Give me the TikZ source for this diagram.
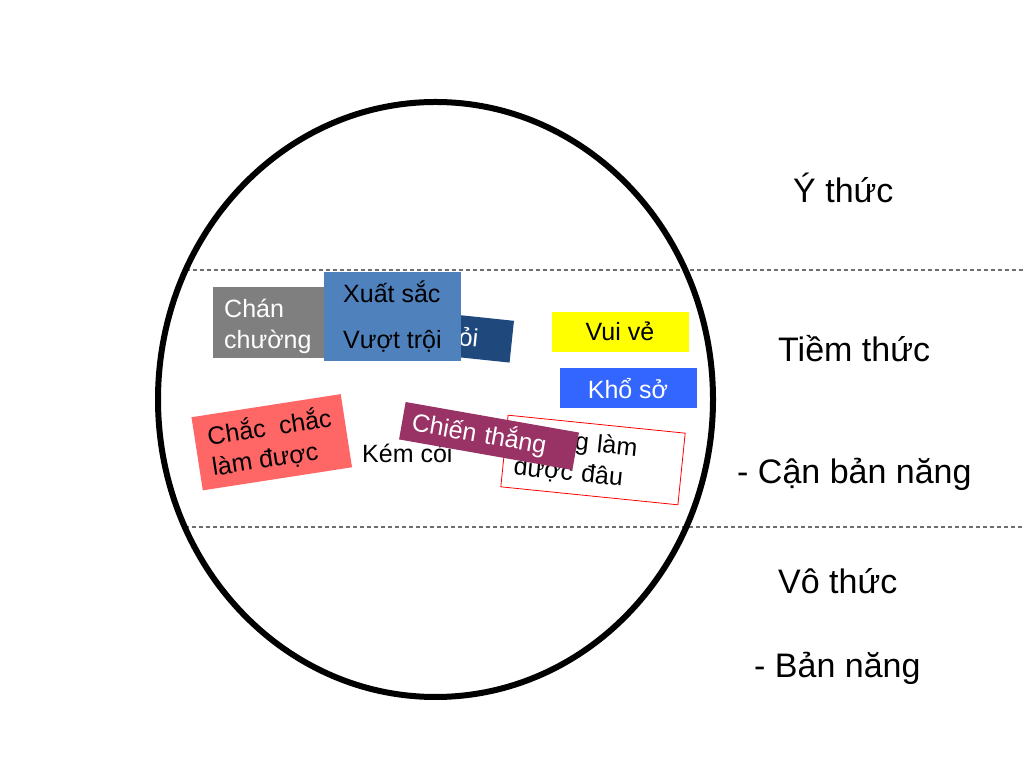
\documentclass[tikz,border=0pt]{standalone}
\usepackage{fontspec}
\setmainfont{Liberation Sans}
\definecolor{cgray}{HTML}{7F7F7F}
\definecolor{csteel}{HTML}{4F81BD}
\definecolor{cnavy}{HTML}{1F497D}
\definecolor{cyellow}{HTML}{FFFF00}
\definecolor{cblue}{HTML}{3366FF}
\definecolor{csalmon}{HTML}{FF6666}
\definecolor{cplum}{HTML}{993366}
\definecolor{cline}{HTML}{6F6F6F}
\begin{document}
\begin{tikzpicture}[x=1pt,y=1pt,
  lbl/.style={font=\fontsize{34}{40}\selectfont, inner sep=0pt, anchor=base west},
  bt/.style={font=\fontsize{25}{31}\selectfont},
  btxt/.style={font=\fontsize{25}{31}\selectfont, inner sep=0pt, anchor=base west},
  flatbox/.style={inner sep=0pt, outer sep=0pt, anchor=north west},
  divider/.style={draw=cline, line width=1.1pt, dash pattern=on 4pt off 3pt}
]
\useasboundingbox (0,0) rectangle (1024,768);
\fill[white] (0,0) rectangle (1024,768);

% dividers
\coordinate (d1a) at (185.7,498);
\coordinate (d1b) at (1024,498);
\coordinate (d2a) at (184.8,241);
\coordinate (d2b) at (1024,241);
\draw[divider] (d1a) -- (d1b);
\draw[divider] (d2a) -- (d2b);

% mind ellipse
\draw[line width=6pt] (435.5,368.5) ellipse [x radius=277.5, y radius=297.5];

% right labels
\node[lbl] (ythuc) at (793,565) {Ý thức};
\node[lbl] (tiem) at (778,406) {Tiềm thức};
\node[lbl] (can) at (737,284) {- Cận bản năng};
\node[lbl] (vo) at (778,174) {Vô thức};
\node[lbl] (ban) at (754,91) {- Bản năng};

% gray box
\node[flatbox, fill=cgray, minimum width=127, minimum height=71] (chan) at (213,481) {};
\node[btxt, text=white] (chan1) at (224,450) {Chán};
\node[btxt, text=white] (chan2) at (224,419) {chường};

% navy rotated box
\node[bt, fill=cnavy, rotate=-6, minimum width=90, minimum height=42, text width=66,
      inner xsep=12, inner ysep=0, align=left, text=white] (gioi) at (467,431) {Giỏi};

% steel blue box
\node[flatbox, fill=csteel, minimum width=137, minimum height=89] (xuat) at (324,496) {};
\node[btxt] (xuat1) at (343,465) {Xuất sắc};
\node[btxt] (xuat2) at (343,419) {Vượt trội};

% yellow box
\node[flatbox, fill=cyellow, minimum width=137, minimum height=40] (vui) at (552,456) {};
\node[btxt, anchor=base] (vui1) at (620,427) {Vui vẻ};

% blue box
\node[flatbox, fill=cblue, minimum width=137, minimum height=40] (kho) at (560,400) {};
\node[btxt, anchor=base, text=white] (kho1) at (628,369) {Khổ sở};

% salmon rotated box
\node[bt, fill=csalmon, rotate=8.8, minimum width=151, minimum height=74, align=left] (chac) at (271.75,325.75) {Chắc\ \ chắc\\làm được};

% plain text
\node[btxt] (kem) at (362,305) {Kém cỏi};

% white box with red border
\node[bt, draw=red, line width=0.8pt, fill=white, rotate=-5.8, minimum width=178, minimum height=72,
      text width=156, inner xsep=11, align=left] (khong) at (593,308) {Không làm\\được đâu};

% plum rotated box
\node[bt, fill=cplum, text=white, rotate=-10, minimum width=176, minimum height=38,
      text width=156, inner xsep=10, inner ysep=0, align=left] (chien) at (489,332) {Chiến thắng};
\end{tikzpicture}
\end{document}
